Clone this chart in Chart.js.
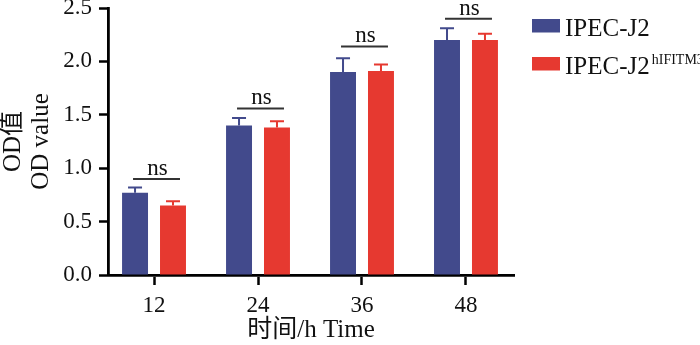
<!DOCTYPE html>
<html>
<head>
<meta charset="utf-8">
<script src="https://cdn.jsdelivr.net/npm/chart.js@4"></script>
<style>
html, body { margin: 0; padding: 0; background: #fff; }
</style>
</head>
<body>
<canvas id="odChart" width="700" height="345"></canvas>
<script>
// values (mean + upper SD)
const timePoints = [12, 24, 36, 48];
const seriesNames = ['IPEC-J2', 'IPEC-J2'];
const seriesSup = ['', 'hIFITM3'];
const wtMean = [0.77, 1.40, 1.90, 2.20];
const wtSd = [0.05, 0.07, 0.13, 0.11];
const hifMean = [0.65, 1.38, 1.91, 2.20];
const hifSd = [0.04, 0.06, 0.06, 0.06];
const nsLevels = [0.90, 1.56, 2.14, 2.40];
const nsText = ['ns', 'ns', 'ns', 'ns'];

const serif = "'Liberation Serif', 'Times New Roman', 'Noto Sans CJK SC', serif";
const colors = ['#424A8C', '#E63930'];

const errorBars = {
    id: 'errorBars',
    afterDatasetsDraw(chart) {
        const ctx = chart.ctx;
        const y = chart.scales.y;
        chart.data.datasets.forEach((ds, d) => {
            const meta = chart.getDatasetMeta(d);
            ctx.save();
            ctx.strokeStyle = ds.backgroundColor;
            ctx.lineWidth = 2;
            meta.data.forEach((bar, i) => {
                const top = y.getPixelForValue(ds.data[i].y + ds.sd[i]);
                ctx.beginPath();
                ctx.moveTo(bar.x, bar.y);
                ctx.lineTo(bar.x, top);
                ctx.moveTo(bar.x - 7, top);
                ctx.lineTo(bar.x + 7, top);
                ctx.stroke();
            });
            ctx.restore();
        });
    }
};

const nsMarks = {
    id: 'nsMarks',
    afterDatasetsDraw(chart) {
        const ctx = chart.ctx;
        const y = chart.scales.y;
        const a = chart.getDatasetMeta(0).data;
        const b = chart.getDatasetMeta(1).data;
        ctx.save();
        ctx.strokeStyle = '#333';
        ctx.fillStyle = '#111';
        ctx.lineWidth = 2;
        ctx.font = '23px ' + serif;
        ctx.textAlign = 'center';
        ctx.textBaseline = 'alphabetic';
        nsLevels.forEach((lv, i) => {
            const x0 = a[i].x - 2, x1 = b[i].x + 7;
            const py = y.getPixelForValue(lv);
            ctx.beginPath();
            ctx.moveTo(x0, py);
            ctx.lineTo(x1, py);
            ctx.stroke();
            ctx.fillText(nsText[i], (x0 + x1) / 2 + 1, py - 4);
        });
        ctx.restore();
    }
};

const sideLegend = {
    id: 'sideLegend',
    afterDraw(chart) {
        const ctx = chart.ctx;
        const left = chart.chartArea.right + 18;
        ctx.save();
        ctx.textBaseline = 'alphabetic';
        ctx.textAlign = 'left';
        chart.data.datasets.forEach((ds, i) => {
            const base = 36 + i * 38;
            ctx.fillStyle = ds.backgroundColor;
            ctx.fillRect(left, base - 17, 28, 13.5);
            ctx.fillStyle = '#111';
            ctx.font = '25px ' + serif;
            ctx.fillText(ds.label, left + 33, base);
            if (seriesSup[i]) {
                const w = ctx.measureText(ds.label).width;
                ctx.font = '14px ' + serif;
                ctx.fillText(seriesSup[i], left + 35 + w, base - 10);
            }
        });
        ctx.restore();
    }
};

new Chart(document.getElementById('odChart').getContext('2d'), {
    type: 'bar',
    data: {
        datasets: [{
            label: seriesNames[0],
            data: timePoints.map((t, i) => ({x: t, y: wtMean[i]})),
            sd: wtSd,
            backgroundColor: colors[0],
            categoryPercentage: 0.73,
            barPercentage: 0.684
        }, {
            label: seriesNames[1],
            data: timePoints.map((t, i) => ({x: t, y: hifMean[i]})),
            sd: hifSd,
            backgroundColor: colors[1],
            categoryPercentage: 0.73,
            barPercentage: 0.684
        }]
    },
    options: {
        responsive: false,
        animation: false,
        layout: {padding: {left: 0, right: 186, top: 8, bottom: 0}},
        scales: {
            x: {
                type: 'linear',
                min: 6.69,
                max: 53.54,
                offset: false,
                afterBuildTicks: (s) => { s.ticks = timePoints.map(v => ({value: v})); },
                afterFit: (s) => { s.height = 70; s.paddingLeft = 0; s.paddingRight = 0; },
                grid: {display: true, offset: false, drawOnChartArea: false, tickLength: 10, tickColor: '#000', tickWidth: 2.5},
                border: {display: true, color: '#000', width: 2.8},
                ticks: {color: '#111', font: {family: serif, size: 23}, padding: 7},
                title: {display: true, text: '时间/h Time', color: '#111',
                    font: {family: serif, size: 25, lineHeight: 1.2}, padding: {top: 0, bottom: 0}}
            },
            y: {
                min: 0,
                max: 2.5,
                afterFit: (s) => { s.width = 108; s.paddingTop = 0; s.paddingBottom = 0; },
                grid: {display: true, drawOnChartArea: false, tickLength: 9, tickColor: '#000', tickWidth: 2.5},
                border: {display: true, color: '#000', width: 2.8},
                ticks: {stepSize: 0.5, color: '#111', font: {family: serif, size: 23}, padding: 7,
                    callback: (v) => v.toFixed(1)},
                title: {display: true, text: ['OD值', 'OD value'], color: '#111',
                    font: {family: serif, size: 25, lineHeight: 1.1}, padding: {top: 0, bottom: 0}}
            }
        },
        plugins: {
            legend: {display: false},
            tooltip: {enabled: false}
        }
    },
    plugins: [errorBars, nsMarks, sideLegend]
});
</script>
</body>
</html>
